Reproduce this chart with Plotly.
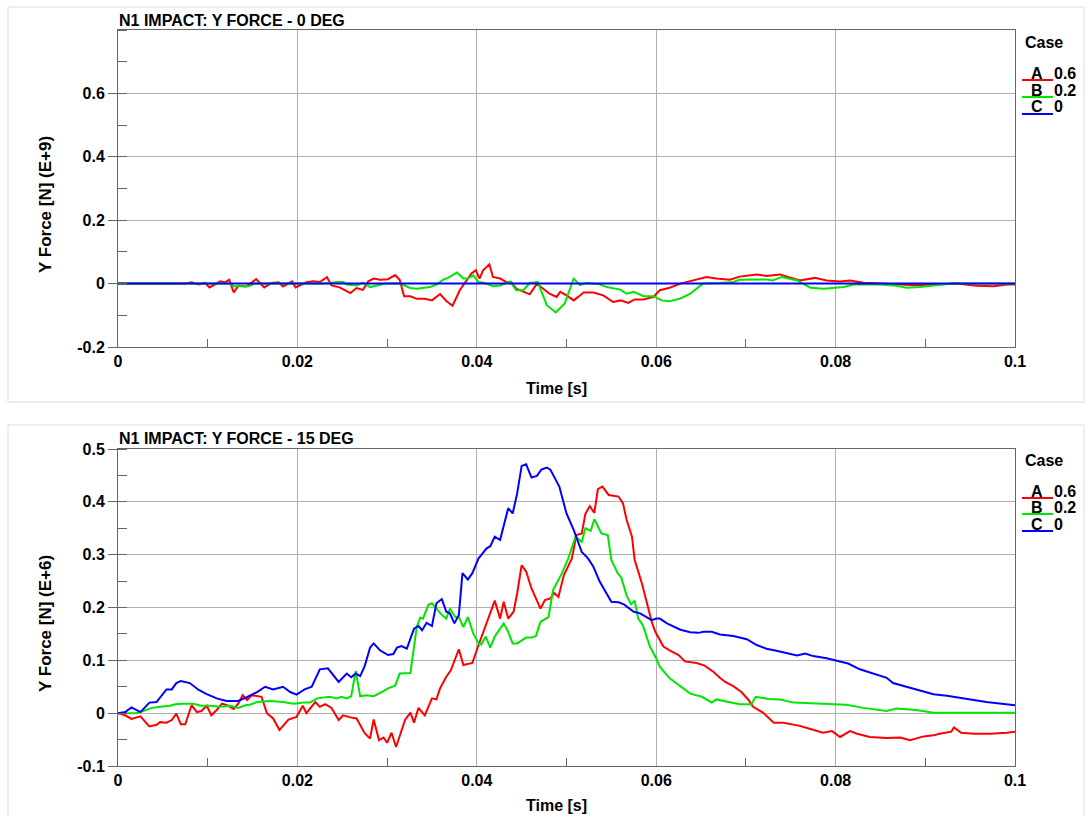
import plotly.graph_objects as go

# ---------------- data ----------------
cases = ["A", "B", "C"]
case_values = ["0.6", "0.2", "0"]
colors = ["#ff0000", "#00e600", "#0000ff"]

titles = ["N1 IMPACT: Y FORCE - 0 DEG", "N1 IMPACT: Y FORCE - 15 DEG"]
ytitles = ["Y Force [N] (E+9)", "Y Force [N] (E+6)"]
xtitle = "Time [s]"

top_yticks = [-0.2, 0, 0.2, 0.4, 0.6]
top_yticktext = ["-0.2", "0", "0.2", "0.4", "0.6"]
bot_yticks = [-0.1, 0, 0.1, 0.2, 0.3, 0.4, 0.5]
bot_yticktext = ["-0.1", "0", "0.1", "0.2", "0.3", "0.4", "0.5"]

# (time, force) pairs, top panel (0 DEG)
top_A = [(0, 0), (0.0075, 0), (0.0082, 0.004), (0.009, -0.003), (0.0097, 0.002), (0.0102, -0.012),
         (0.0114, 0.007), (0.0119, 0.004), (0.0124, 0.012), (0.0129, -0.028), (0.0134, -0.007),
         (0.0143, -0.009), (0.0154, 0.014), (0.0163, -0.012), (0.0171, 0.002), (0.0179, 0.004),
         (0.0184, -0.009), (0.0194, 0.007), (0.0198, -0.012), (0.021, 0.004), (0.0218, 0.007),
         (0.0225, 0.005), (0.0233, 0.02), (0.0238, -0.006), (0.0247, -0.012), (0.0259, -0.03),
         (0.0266, -0.014), (0.0273, -0.02), (0.0279, 0.007), (0.0285, 0.016), (0.0292, 0.012),
         (0.0301, 0.014), (0.0309, 0.027), (0.0314, 0.012), (0.0319, -0.04), (0.0326, -0.04),
         (0.0333, -0.048), (0.0342, -0.048), (0.035, -0.053), (0.0359, -0.033), (0.0366, -0.055),
         (0.0373, -0.07), (0.0381, -0.021), (0.0389, 0.011), (0.0394, 0.032), (0.0399, 0.042),
         (0.0403, 0.016), (0.0407, 0.042), (0.0414, 0.061), (0.0418, 0.021), (0.0426, 0.016),
         (0.0433, 0.005), (0.0438, 0.005), (0.0444, -0.016), (0.0452, -0.026), (0.0459, -0.034),
         (0.0467, 0.0), (0.0474, -0.016), (0.0481, -0.032), (0.0489, -0.042), (0.0493, -0.026),
         (0.05, -0.037), (0.0508, -0.053), (0.0513, -0.042), (0.0519, -0.028), (0.053, -0.028),
         (0.0541, -0.037), (0.0552, -0.058), (0.056, -0.053), (0.0569, -0.061), (0.0576, -0.05),
         (0.0586, -0.05), (0.0597, -0.042), (0.0604, -0.021), (0.0615, -0.013), (0.0627, 0.0),
         (0.0638, 0.008), (0.0649, 0.016), (0.0656, 0.021), (0.0667, 0.016), (0.0682, 0.012),
         (0.0693, 0.022), (0.0712, 0.029), (0.0723, 0.024), (0.0738, 0.029), (0.0747, 0.021),
         (0.076, 0.01), (0.0777, 0.018), (0.079, 0.01), (0.0805, 0.007), (0.0816, 0.01),
         (0.0831, 0.003), (0.085, 0.0), (0.0876, -0.003), (0.089, -0.005), (0.0912, -0.003),
         (0.0935, 0.0), (0.0957, -0.007), (0.0976, -0.008), (0.0991, -0.003), (0.1, -0.003)]
top_B = [(0, 0), (0.0125, 0), (0.0129, -0.008), (0.0146, -0.008), (0.0152, 0), (0.023, 0),
         (0.0245, 0.005), (0.0251, 0.005), (0.0255, -0.003), (0.0266, -0.006), (0.0273, 0.003),
         (0.0281, -0.011), (0.029, -0.005), (0.0298, 0), (0.0314, 0), (0.0326, -0.014),
         (0.0333, -0.016), (0.0348, -0.011), (0.0355, -0.003), (0.0363, 0.013), (0.0368, 0.018),
         (0.0378, 0.035), (0.0385, 0.016), (0.039, 0.016), (0.0396, 0.026), (0.0402, 0.005),
         (0.0409, 0.002), (0.0418, -0.008), (0.0426, -0.006), (0.0437, 0.007), (0.0444, -0.021),
         (0.0452, -0.021), (0.0459, 0.002), (0.0468, 0.005), (0.0478, -0.068), (0.0488, -0.091),
         (0.0498, -0.063), (0.0508, 0.016), (0.0515, -0.005), (0.0522, 0.002), (0.0537, -0.002),
         (0.0545, -0.011), (0.056, -0.019), (0.0567, -0.032), (0.0575, -0.026), (0.0586, -0.04),
         (0.0597, -0.04), (0.0606, -0.053), (0.0615, -0.056), (0.0627, -0.047), (0.0638, -0.032),
         (0.0645, -0.016), (0.0652, 0), (0.0671, 0.002), (0.0686, 0.005), (0.0693, 0.012),
         (0.0723, 0.013), (0.073, 0.01), (0.074, 0.021), (0.0757, 0.01), (0.0772, -0.013),
         (0.0787, -0.016), (0.0809, -0.011), (0.082, -0.003), (0.085, -0.003), (0.0868, -0.007),
         (0.0879, -0.013), (0.0894, -0.011), (0.0912, -0.005), (0.093, 0), (0.1, 0)]
top_C = [(0, 0), (0.02, 0), (0.04, 0), (0.06, 0), (0.08, 0), (0.1, 0)]

# (time, force) pairs, bottom panel (15 DEG)
bot_A = [(0, 0), (0.0008, -0.004), (0.0015, -0.011), (0.0025, -0.006), (0.0035, -0.025),
         (0.0043, -0.022), (0.0047, -0.017), (0.0054, -0.018), (0.006, -0.013), (0.0065, -0.001),
         (0.007, -0.021), (0.0075, -0.021), (0.0082, 0.015), (0.0088, 0.002), (0.0093, 0.004),
         (0.0099, 0.014), (0.0104, -0.004), (0.011, 0.006), (0.0116, 0.018), (0.0123, 0.014),
         (0.0129, 0.008), (0.0134, 0.018), (0.0139, 0.034), (0.0144, 0.025), (0.0149, 0.034),
         (0.016, 0.031), (0.0166, 0), (0.0173, -0.01), (0.018, -0.032), (0.019, -0.012),
         (0.0199, -0.007), (0.0206, 0.014), (0.021, 0), (0.022, 0.021), (0.0225, 0.012),
         (0.0231, 0.017), (0.0238, 0.01), (0.0246, -0.013), (0.0251, -0.004), (0.0259, -0.008),
         (0.0266, -0.01), (0.0275, -0.038), (0.0281, -0.048), (0.0285, -0.012), (0.0291, -0.051),
         (0.0296, -0.046), (0.03, -0.056), (0.0305, -0.037), (0.031, -0.064), (0.0314, -0.045),
         (0.032, -0.013), (0.0326, 0.001), (0.033, -0.018), (0.0335, 0.01), (0.0342, -0.004),
         (0.035, 0.028), (0.0355, 0.026), (0.0359, 0.047), (0.0366, 0.069), (0.0371, 0.081),
         (0.0376, 0.102), (0.038, 0.121), (0.0385, 0.091), (0.0395, 0.095), (0.0402, 0.129),
         (0.0411, 0.171), (0.0415, 0.186), (0.042, 0.213), (0.0426, 0.179), (0.043, 0.211),
         (0.0435, 0.179), (0.0441, 0.192), (0.0445, 0.227), (0.045, 0.28), (0.0455, 0.268),
         (0.0461, 0.236), (0.0471, 0.198), (0.0476, 0.214), (0.0482, 0.217), (0.0486, 0.228),
         (0.0491, 0.22), (0.0497, 0.261), (0.0506, 0.293), (0.0511, 0.337), (0.0517, 0.34),
         (0.0521, 0.377), (0.0526, 0.392), (0.0531, 0.379), (0.0535, 0.424), (0.054, 0.429),
         (0.0547, 0.413), (0.0553, 0.411), (0.0558, 0.41), (0.0563, 0.397), (0.0567, 0.366),
         (0.0573, 0.334), (0.0576, 0.29), (0.0584, 0.246), (0.0589, 0.214), (0.0595, 0.173),
         (0.0599, 0.154), (0.0608, 0.126), (0.0615, 0.119), (0.0625, 0.11), (0.0632, 0.098),
         (0.0645, 0.095), (0.0654, 0.09), (0.0664, 0.078), (0.0671, 0.067), (0.0677, 0.059),
         (0.0686, 0.051), (0.0695, 0.04), (0.0703, 0.025), (0.0708, 0.012), (0.0719, 0.001),
         (0.0731, -0.018), (0.0742, -0.018), (0.0753, -0.021), (0.076, -0.024), (0.077, -0.029),
         (0.0786, -0.037), (0.0796, -0.034), (0.0805, -0.045), (0.0816, -0.034), (0.0824, -0.039),
         (0.0838, -0.045), (0.0857, -0.047), (0.0872, -0.046), (0.0883, -0.051), (0.0898, -0.044),
         (0.0909, -0.042), (0.0916, -0.039), (0.0929, -0.035), (0.0932, -0.027), (0.094, -0.037),
         (0.0954, -0.039), (0.0972, -0.039), (0.0991, -0.037), (0.1, -0.035)]
bot_B = [(0, 0), (0.001, 0), (0.002, 0), (0.0028, 0.004), (0.0038, 0.01), (0.0047, 0.012),
         (0.0058, 0.014), (0.0064, 0.017), (0.0071, 0.018), (0.0084, 0.018), (0.0093, 0.014),
         (0.0103, 0.014), (0.0114, 0.012), (0.0125, 0.014), (0.0134, 0.01), (0.0142, 0.015),
         (0.0147, 0.016), (0.0155, 0.021), (0.017, 0.023), (0.0184, 0.021), (0.0196, 0.018),
         (0.0207, 0.02), (0.0214, 0.02), (0.0222, 0.028), (0.0236, 0.031), (0.0244, 0.028),
         (0.0249, 0.031), (0.0255, 0.028), (0.026, 0.032), (0.0265, 0.08), (0.027, 0.032),
         (0.0277, 0.034), (0.0285, 0.032), (0.0294, 0.04), (0.0301, 0.047), (0.0309, 0.052),
         (0.0314, 0.075), (0.0326, 0.076), (0.0333, 0.163), (0.0337, 0.181), (0.034, 0.179),
         (0.0346, 0.205), (0.035, 0.208), (0.0355, 0.198), (0.0361, 0.186), (0.0366, 0.179),
         (0.037, 0.198), (0.0376, 0.182), (0.038, 0.182), (0.0385, 0.163), (0.039, 0.182),
         (0.0396, 0.151), (0.0402, 0.132), (0.0405, 0.13), (0.041, 0.145), (0.0415, 0.124),
         (0.042, 0.145), (0.043, 0.17), (0.0435, 0.154), (0.044, 0.132), (0.0445, 0.132),
         (0.0455, 0.143), (0.0461, 0.143), (0.0466, 0.146), (0.0471, 0.173), (0.048, 0.182),
         (0.0485, 0.233), (0.0495, 0.265), (0.0502, 0.293), (0.051, 0.334), (0.0517, 0.324),
         (0.0521, 0.35), (0.0527, 0.345), (0.0531, 0.367), (0.0539, 0.34), (0.0546, 0.337),
         (0.055, 0.29), (0.0557, 0.265), (0.0561, 0.257), (0.0567, 0.223), (0.0572, 0.206),
         (0.0576, 0.213), (0.058, 0.179), (0.0585, 0.167), (0.0593, 0.126), (0.06, 0.104),
         (0.0604, 0.088), (0.0615, 0.066), (0.0627, 0.051), (0.0638, 0.037), (0.0651, 0.031),
         (0.0662, 0.02), (0.0667, 0.026), (0.0682, 0.021), (0.0693, 0.017), (0.0706, 0.017),
         (0.0711, 0.031), (0.0725, 0.027), (0.0738, 0.026), (0.0753, 0.02), (0.0775, 0.018),
         (0.0797, 0.017), (0.0812, 0.016), (0.0831, 0.01), (0.0857, 0.004), (0.0868, 0.009),
         (0.089, 0.006), (0.0909, 0.001), (0.0935, 0.001), (0.0972, 0.001), (0.0991, 0), (0.1, 0.001)]
bot_C = [(0, 0), (0.0008, 0.002), (0.0015, 0.011), (0.0025, 0.002), (0.0035, 0.02), (0.0043, 0.021),
         (0.0054, 0.045), (0.006, 0.045), (0.0065, 0.057), (0.007, 0.061), (0.008, 0.057),
         (0.009, 0.044), (0.0099, 0.036), (0.011, 0.028), (0.0121, 0.023), (0.0134, 0.023),
         (0.0143, 0.03), (0.0155, 0.04), (0.0164, 0.05), (0.0173, 0.045), (0.0184, 0.05),
         (0.0192, 0.04), (0.0199, 0.035), (0.0208, 0.045), (0.0216, 0.05), (0.0225, 0.083),
         (0.0234, 0.085), (0.0246, 0.059), (0.0255, 0.075), (0.026, 0.068), (0.0265, 0.075),
         (0.027, 0.07), (0.0275, 0.089), (0.0281, 0.124), (0.0285, 0.132), (0.0292, 0.119),
         (0.0301, 0.11), (0.0307, 0.112), (0.0311, 0.124), (0.0316, 0.127), (0.0322, 0.122),
         (0.033, 0.16), (0.0335, 0.165), (0.0339, 0.157), (0.0344, 0.171), (0.035, 0.165),
         (0.0355, 0.208), (0.0361, 0.216), (0.0366, 0.192), (0.037, 0.189), (0.0375, 0.17),
         (0.038, 0.186), (0.0384, 0.265), (0.039, 0.253), (0.0395, 0.265), (0.0402, 0.293),
         (0.0411, 0.312), (0.0415, 0.316), (0.042, 0.334), (0.0426, 0.328), (0.0435, 0.388),
         (0.044, 0.378), (0.0445, 0.416), (0.045, 0.468), (0.0455, 0.471), (0.0461, 0.446),
         (0.0467, 0.449), (0.0472, 0.461), (0.0478, 0.465), (0.0482, 0.461), (0.0492, 0.429),
         (0.05, 0.378), (0.0508, 0.347), (0.0517, 0.305), (0.0524, 0.293), (0.053, 0.277),
         (0.0537, 0.249), (0.055, 0.211), (0.0558, 0.21), (0.0564, 0.206), (0.0575, 0.192),
         (0.0582, 0.189), (0.0595, 0.176), (0.06, 0.179), (0.0604, 0.179), (0.0612, 0.17),
         (0.0627, 0.158), (0.0638, 0.153), (0.0647, 0.152), (0.0653, 0.154), (0.0662, 0.154),
         (0.0671, 0.149), (0.0686, 0.146), (0.0701, 0.14), (0.0712, 0.129), (0.0723, 0.122),
         (0.0734, 0.118), (0.0745, 0.114), (0.0757, 0.109), (0.0766, 0.113), (0.0775, 0.108),
         (0.079, 0.104), (0.0803, 0.098), (0.0814, 0.094), (0.0827, 0.083), (0.0842, 0.075),
         (0.0857, 0.067), (0.0864, 0.057), (0.0879, 0.05), (0.0894, 0.044), (0.0909, 0.036),
         (0.0924, 0.033), (0.0937, 0.029), (0.0954, 0.025), (0.0968, 0.021), (0.0983, 0.018),
         (0.1, 0.015)]

# ---------------- figure ----------------
W, H = 1091, 816
FONT = "Liberation Sans, Arial, Helvetica, sans-serif"


def px(x):
    return x / W


def py(y):
    return 1 - y / H


fig = go.Figure()

panels = [
    dict(series=[top_A, top_B, top_C], xa="x", ya="y"),
    dict(series=[bot_A, bot_B, bot_C], xa="x2", ya="y2"),
]
for p in panels:
    for ser, col, name in zip(p["series"], colors, cases):
        fig.add_trace(go.Scatter(
            x=[a for a, b in ser], y=[b for a, b in ser], mode="lines", name=name,
            line=dict(color=col, width=2), xaxis=p["xa"], yaxis=p["ya"], showlegend=False,
            hoverinfo="skip"))

tickfont = dict(family=FONT, size=16, color="black", weight="bold")
axcol = "#666666"
gridcol = "#b0b0b0"


def xaxis_cfg(dom, anchor):
    return dict(domain=dom, anchor=anchor, range=[0, 0.1], tick0=0, dtick=0.02,
                automargin=False,
                showgrid=True, gridcolor=gridcol, gridwidth=1, zeroline=False,
                showline=True, linecolor=axcol, linewidth=1, mirror=True,
                ticks="", tickfont=tickfont,
                minor=dict(dtick=0.01, tick0=0, ticks="inside", ticklen=8,
                           tickcolor=axcol, showgrid=False))


def yaxis_cfg(dom, anchor, rng, tv, tt, minor_dtick):
    return dict(domain=dom, anchor=anchor, range=rng, tickmode="array", tickvals=tv,
                ticktext=tt, automargin=False,
                showgrid=True, gridcolor=gridcol, gridwidth=1, zeroline=False,
                showline=True, linecolor=axcol, linewidth=1, mirror=True,
                ticks="outside", ticklen=9, tickcolor=axcol, tickfont=tickfont,
                minor=dict(dtick=minor_dtick, tick0=0, ticks="inside", ticklen=9,
                           tickcolor=axcol, showgrid=False))


fig.update_layout(
    width=W, height=H, margin=dict(l=0, r=0, t=0, b=0, pad=0, autoexpand=False),
    paper_bgcolor="white", plot_bgcolor="white", showlegend=False,
    font=dict(family=FONT, color="black"),
    xaxis=xaxis_cfg([px(118), px(1015)], "y"),
    yaxis=yaxis_cfg([py(347), py(30)], "x", [-0.2, 0.8], top_yticks, top_yticktext, 0.1),
    xaxis2=xaxis_cfg([px(118), px(1015)], "y2"),
    yaxis2=yaxis_cfg([py(766), py(449)], "x2", [-0.1, 0.5], bot_yticks, bot_yticktext, 0.05),
)

shapes = []
annotations = []
# panel frames
for (y0, y1) in [(7, 402), (425, 830)]:
    shapes.append(dict(type="rect", xref="paper", yref="paper", x0=px(8), x1=px(1084),
                       y0=py(y1), y1=py(y0), line=dict(color="#dddddd", width=1),
                       fillcolor="rgba(0,0,0,0)", layer="below"))

bold16 = dict(family=FONT, size=16, color="black", weight="bold")
panel_pos = [dict(title_y=20, yt_y=205, xt_y=388, case_y=42, ent_y=[73, 90, 107]),
             dict(title_y=438, yt_y=624, xt_y=805, case_y=460, ent_y=[491, 507, 524])]
for i, pp in enumerate(panel_pos):
    annotations.append(dict(text=titles[i], xref="paper", yref="paper", x=px(117), y=py(pp["title_y"]),
                            xanchor="left", yanchor="middle", showarrow=False, font=bold16))
    annotations.append(dict(text=ytitles[i], xref="paper", yref="paper", x=px(45), y=py(pp["yt_y"]),
                            xanchor="center", yanchor="middle", showarrow=False, textangle=-90,
                            font=dict(family=FONT, size=17, color="black", weight="bold")))
    annotations.append(dict(text=xtitle, xref="paper", yref="paper", x=px(556), y=py(pp["xt_y"]),
                            xanchor="center", yanchor="middle", showarrow=False, font=bold16))
    annotations.append(dict(text="Case", xref="paper", yref="paper", x=px(1023), y=py(pp["case_y"]),
                            xanchor="left", yanchor="middle", showarrow=False, font=bold16))
    for c, v, col, ey in zip(cases, case_values, colors, pp["ent_y"]):
        annotations.append(dict(text=c, xref="paper", yref="paper", x=px(1037), y=py(ey),
                                xanchor="center", yanchor="middle", showarrow=False, font=bold16))
        annotations.append(dict(text=v, xref="paper", yref="paper", x=px(1052), y=py(ey),
                                xanchor="left", yanchor="middle", showarrow=False, font=bold16))
        shapes.append(dict(type="line", xref="paper", yref="paper", x0=px(1022), x1=px(1053),
                           y0=py(ey + 7), y1=py(ey + 7), line=dict(color=col, width=2)))

fig.update_layout(shapes=shapes, annotations=annotations)

fig.write_html("out.html", config={"displayModeBar": False},
               post_script="document.body.style.margin='0';document.body.style.overflow='hidden';")
